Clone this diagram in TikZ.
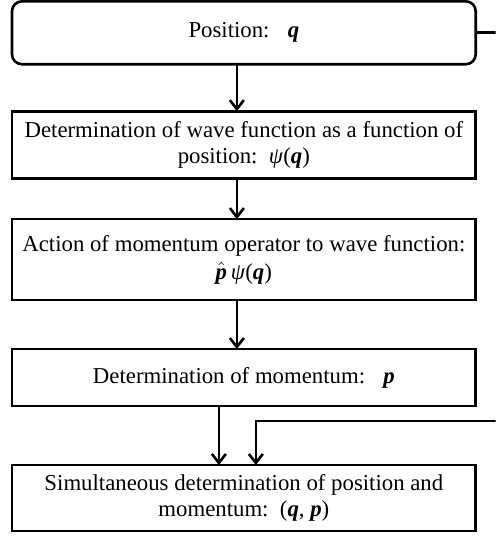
\documentclass[tikz,border=0pt]{standalone}
\usepackage{fontspec}
\setmainfont{Liberation Serif}
\usetikzlibrary{arrows.meta,positioning}

\newcommand{\bq}{\textbf{\textit{q}}}
\newcommand{\bp}{\textbf{\textit{p}}}
\newcommand{\hp}{$\hat{\hbox{\bp}}$}

\begin{document}
\begin{tikzpicture}[
  font=\fontsize{11.4}{13}\selectfont, >={Straight Barb[length=4.5pt,width=7pt]},
  line width=1.3pt,
  box/.style   = {draw, align=center, outer sep=0pt, inner sep=2pt,
                  minimum width=232pt},
  start/.style = {box, rounded corners=5pt, minimum height=31.5pt}
]

\node[start] (pos) {Position:\hspace{0.8em}\bq};
\node[box, minimum height=33.5pt, below=23.5pt of pos] (wave)
  {Determination of wave function as a function of\\position:\ \ \textit{ψ}(\bq)};
\node[box, minimum height=40.5pt, below=20.5pt of wave] (act)
  {Action of momentum operator to wave function:\\[1pt] \hp\,\textit{ψ}(\bq)};
\node[box, minimum height=28.5pt, below=24.5pt of act] (mom)
  {Determination of momentum:\hspace{0.8em}\bp};
\node[box, minimum height=33pt, below=29.5pt of mom] (sim)
  {Simultaneous determination of position and\\momentum:\ \ (\bq, \bp)};

\draw[->] ([xshift=-3.5pt]pos.south)  -- ([xshift=-3.5pt]wave.north);
\draw[->] ([xshift=-3.5pt]wave.south) -- ([xshift=-3.5pt]act.north);
\draw[->] ([xshift=-3.5pt]act.south)  -- ([xshift=-3.5pt]mom.north);
\draw[->] ([xshift=-12.5pt]mom.south) -- ([xshift=-12.5pt]sim.north);

\useasboundingbox ([xshift=-6pt,yshift=0.5pt]pos.north west)
  rectangle ([xshift=10pt,yshift=-2.5pt]sim.south east);
\begin{scope}
  \clip ([xshift=-6pt,yshift=0.5pt]pos.north west)
    rectangle ([xshift=10pt,yshift=-2.5pt]sim.south east);
  \draw[->] (pos.east) -- ++(20pt,0)
    |- ([xshift=6pt,yshift=22pt]sim.north) -- ([xshift=6pt]sim.north);
\end{scope}

\end{tikzpicture}
\end{document}
